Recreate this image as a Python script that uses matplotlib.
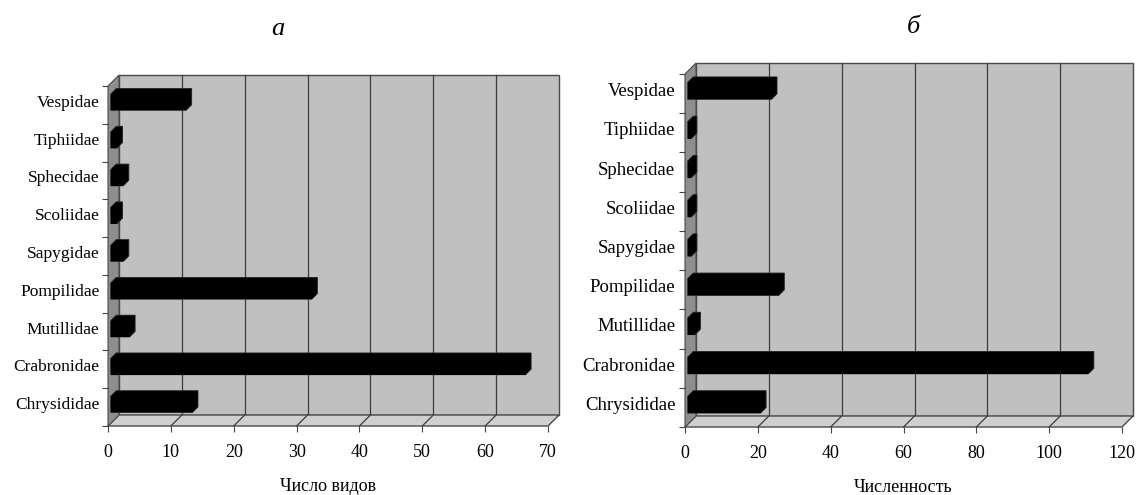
import numpy as np
import matplotlib.pyplot as plt
from matplotlib.patches import Polygon
from matplotlib.transforms import ScaledTranslation

plt.rcParams['font.family'] = ['Liberation Serif', 'DejaVu Serif']

# data (bottom -> top as drawn)
families = ['Chrysididae', 'Crabronidae', 'Mutillidae', 'Pompilidae', 'Sapygidae',
            'Scoliidae', 'Sphecidae', 'Tiphiidae', 'Vespidae']
species_count = [13, 66, 3, 32, 2, 1, 2, 1, 12]
abundance = [20, 110, 2, 25, 1, 1, 1, 1, 23]

ticks_a = [0, 10, 20, 30, 40, 50, 60, 70]
ticks_b = [0, 20, 40, 60, 80, 100, 120]

W, H = 1137, 495
DX, DY = 11, 11  # depth of the 3D box, px

wall_col = '#c0c0c0'
side_col = '#8e8e8e'
floor_col = '#cfcfcf'
edge_col = '#4a4a4a'

fig = plt.figure(figsize=(W / 100, H / 100), dpi=100)
fig.patch.set_facecolor('white')


def panel(box, values, ticks, xlabel, lab_size, lab_pad):
    left, top, right, bottom = box
    ax = fig.add_axes([left / W, 1 - bottom / H, (right - left) / W, (bottom - top) / H])
    n = len(values)
    xmax = ticks[-1]
    ax.set_xlim(0, xmax)
    ax.set_ylim(-0.5, n - 0.5)
    ax.patch.set_visible(False)
    for s in ax.spines.values():
        s.set_visible(False)

    # pixel depth -> data units
    p0 = ax.transData.transform((0, 0))
    p1 = ax.transData.transform((1, 1))
    ddx = DX / (p1[0] - p0[0])
    ddy = DY / (p1[1] - p0[1])
    y0, y1 = -0.5, n - 0.5

    # back wall
    ax.add_patch(Polygon([(ddx, y0 + ddy), (xmax + ddx, y0 + ddy), (xmax + ddx, y1 + ddy),
                          (ddx, y1 + ddy)], closed=True, fc=wall_col, ec=edge_col,
                         lw=1, zorder=0.5, clip_on=False))
    # floor
    ax.add_patch(Polygon([(0, y0), (xmax, y0), (xmax + ddx, y0 + ddy), (ddx, y0 + ddy)],
                         closed=True, fc=floor_col, ec=edge_col, lw=1, zorder=0.7,
                         clip_on=False))
    # left wall
    ax.add_patch(Polygon([(0, y0), (ddx, y0 + ddy), (ddx, y1 + ddy), (0, y1)],
                         closed=True, fc=side_col, ec=edge_col, lw=0.8, zorder=0.8,
                         clip_on=False))
    # grid lines on back wall and floor
    for t in ticks[1:-1]:
        ax.plot([t + ddx, t + ddx], [y0 + ddy, y1 + ddy], color='#3c3c3c', lw=0.9,
                zorder=0.6, clip_on=False)
        ax.plot([t, t + ddx], [y0, y0 + ddy], color='#3c3c3c', lw=0.9,
                zorder=0.75, clip_on=False)

    # bars: front face at 25% depth, back face at 75% depth
    h = 0.43
    f, b = 0.25, 0.75
    ax.barh(np.arange(n) + f * ddy, values, height=h, left=f * ddx, color='black',
            zorder=3, clip_on=False)
    for i, v in enumerate(values):
        fx0, fx1 = f * ddx, v + f * ddx
        fy0, fy1 = i - h / 2 + f * ddy, i + h / 2 + f * ddy
        sx, sy = (b - f) * ddx, (b - f) * ddy
        ax.add_patch(Polygon([(fx0, fy0), (fx1, fy0), (fx1 + sx, fy0 + sy),
                              (fx1 + sx, fy1 + sy), (fx0 + sx, fy1 + sy), (fx0, fy1)],
                             closed=True, fc='black', ec='#222222', lw=0.6, zorder=2.9,
                             clip_on=False))

    # ticks and labels
    ax.set_xticks(ticks)
    ax.tick_params(axis='x', length=4, width=0.8, color='#444444', pad=9,
                   labelsize=13)
    ax.set_yticks(np.arange(n), labels=families)
    ax.set_yticks(np.arange(-0.5, n), minor=True)
    ax.tick_params(axis='y', which='major', length=0, pad=lab_pad, labelsize=lab_size)
    ax.tick_params(axis='y', which='minor', length=4, width=0.8, color='#444444')
    for lab in ax.get_yticklabels():
        lab.set_transform(lab.get_transform() +
                          ScaledTranslation(0, 0.04, fig.dpi_scale_trans))
    ax.set_xlabel(xlabel, fontsize=13, labelpad=12)
    return ax


ax_a = panel((108, 86, 548, 426), species_count, ticks_a, 'Число видов', 12.5, 6)
ax_b = panel((685, 74, 1122, 427), abundance, ticks_b, 'Численность', 13.5, 7)

fig.text(278 / W, 1 - 29 / H, 'а', fontsize=19, style='italic', ha='center', va='center')
fig.text(913 / W, 1 - 27 / H, 'б', fontsize=19, style='italic', ha='center', va='center')

fig.savefig('out.png', dpi=100)
